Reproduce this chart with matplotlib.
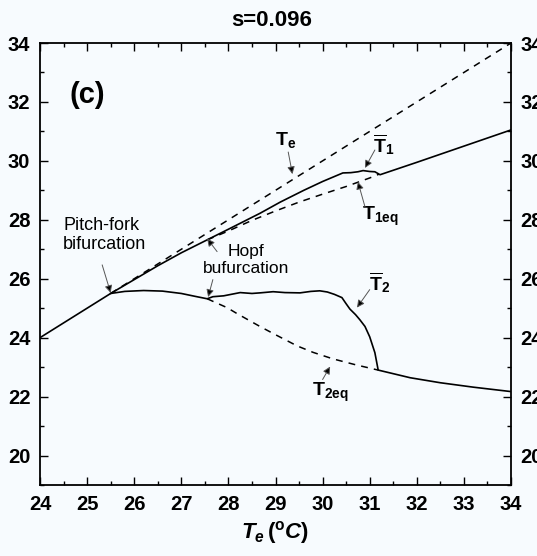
import numpy as np
import matplotlib
matplotlib.use("Agg")
import matplotlib.pyplot as plt
from matplotlib import font_manager
from matplotlib.ticker import MultipleLocator

# ---- data -------------------------------------------------------------
s_value = 0.096
pitchfork_te = 25.5
hopf_te = 27.55
merge_te = 31.2

# environmental temperature (dashed diagonal T = Te)
te_line_x = [25.5, 34.0]
te_line_y = [25.5, 34.0]

# time-mean temperature of box 1 (upper solid branch)
t1_x = [24.0, 25.5, 26.0, 26.5, 27.0, 27.55, 28.0, 28.67, 29.1, 29.6, 30.0,
        30.43, 30.6, 30.75, 30.86, 31.0, 31.11, 31.22, 32.0, 33.0, 34.0]
t1_y = [24.0, 25.5, 25.97, 26.44, 26.88, 27.32, 27.68, 28.22, 28.6, 29.0, 29.3,
        29.59, 29.6, 29.63, 29.67, 29.64, 29.63, 29.53, 29.95, 30.5, 31.05]

# unstable equilibrium of box 1 (dashed, Hopf to merge)
t1eq_x = [27.55, 28.0, 28.5, 29.0, 29.5, 30.0, 30.5, 31.0, 31.2]
t1eq_y = [27.32, 27.62, 27.98, 28.3, 28.6, 28.87, 29.13, 29.42, 29.55]

# time-mean temperature of box 2 (lower solid branch)
t2_x = [25.5, 25.8, 26.2, 26.6, 27.0, 27.3, 27.55, 27.67, 27.9, 28.25, 28.5,
        28.67, 28.95, 29.2, 29.52, 29.75, 29.94, 30.1, 30.25, 30.41, 30.5,
        30.58, 30.7, 30.79, 30.9, 31.0, 31.11, 31.18, 31.86, 32.5, 33.2, 34.0]
t2_y = [25.5, 25.57, 25.6, 25.58, 25.5, 25.4, 25.32, 25.39, 25.42, 25.53, 25.5,
        25.52, 25.56, 25.53, 25.52, 25.57, 25.59, 25.55, 25.47, 25.36, 25.15,
        24.97, 24.78, 24.61, 24.38, 24.03, 23.49, 22.9, 22.64, 22.47, 22.32, 22.17]

# unstable equilibrium of box 2 (dashed, Hopf to merge)
t2eq_x = [27.55, 27.97, 28.18, 28.67, 29.0, 29.46, 29.8, 30.22, 30.7, 31.18]
t2eq_y = [25.32, 25.02, 24.82, 24.38, 24.1, 23.72, 23.5, 23.28, 23.08, 22.9]

x_ticks = list(range(24, 35))
y_ticks = list(range(20, 35, 2))

# ---- style ------------------------------------------------------------
names = {f.name for f in font_manager.fontManager.ttflist}
FAM = "Liberation Sans Narrow" if "Liberation Sans Narrow" in names else "Liberation Sans"
plt.rcParams["font.family"] = [FAM, "DejaVu Sans"]
plt.rcParams["mathtext.fontset"] = "custom"
plt.rcParams["mathtext.rm"] = f"{FAM}:bold"
plt.rcParams["mathtext.it"] = f"{FAM}:italic:bold"
plt.rcParams["mathtext.bf"] = f"{FAM}:bold"

BG = "#f7fbfe"
fig = plt.figure(figsize=(5.37, 5.56), dpi=100, facecolor=BG)
ax = fig.add_axes([40 / 537, 1 - 485 / 556, 471 / 537, 442 / 556], facecolor=BG)

dash = (0, (4.5, 4))
ax.plot(te_line_x, te_line_y, color="black", lw=1.1, linestyle=dash)
ax.plot(t1eq_x, t1eq_y, color="black", lw=1.1, linestyle=dash)
ax.plot(t2eq_x, t2eq_y, color="black", lw=1.1, linestyle=dash)
ax.plot(t1_x, t1_y, color="black", lw=1.2)
ax.plot(t2_x, t2_y, color="black", lw=1.2)

ax.set_xlim(24, 34)
ax.set_ylim(19, 34)
ax.set_xticks(x_ticks)
ax.set_yticks(y_ticks)
ax.xaxis.set_minor_locator(MultipleLocator(0.5))
ax.yaxis.set_minor_locator(MultipleLocator(1))
ax.tick_params(which="both", direction="in", top=True, right=True,
               labelright=True, width=1.0, color="black")
ax.tick_params(which="major", length=6, labelsize=14.5, pad=7)
ax.tick_params(which="minor", length=3)
for lab in ax.get_xticklabels() + ax.get_yticklabels():
    lab.set_fontweight("bold")
for lab in ax.yaxis.get_ticklabels(which="major"):
    lab.set_fontweight("bold")
for sp in ax.spines.values():
    sp.set_linewidth(1.3)

ax.set_xlabel(r"$T_e\,(^{\mathrm{o}}C)$", fontsize=16, labelpad=4)
fig.text(272 / 537, 1 - 20 / 556, f"s={s_value}", ha="center", va="center",
         fontsize=16, fontweight="bold")

ax.text(25.0, 32.24, "(c)", fontsize=21, fontweight="bold", ha="center", va="center")

arrow = dict(arrowstyle="-|>", color="#555555", fc="black", lw=0.7,
             mutation_scale=11, shrinkA=0, shrinkB=0)

ax.text(24.49, 27.49, "Pitch-fork\nbifurcation", fontsize=13, ha="left",
        va="center", linespacing=1.15)
ax.annotate("", xy=(pitchfork_te, 25.52), xytext=(25.32, 26.47), arrowprops=arrow)

ax.text(28.38, 26.64, "Hopf\nbufurcation", fontsize=12.5, ha="center",
        va="center", linespacing=1.15)
ax.annotate("", xy=(hopf_te, 27.36), xytext=(27.76, 26.92), arrowprops=arrow)
ax.annotate("", xy=(hopf_te + 0.02, 25.38), xytext=(27.67, 25.97), arrowprops=arrow)

ax.text(29.22, 30.7, r"$\mathrm{T}_\mathrm{e}$", fontsize=14, ha="center", va="center")
ax.annotate("", xy=(29.36, 29.55), xytext=(29.27, 30.3), arrowprops=arrow)

ax.text(31.3, 30.55, r"$\overline{\mathrm{T}}_\mathrm{1}$", fontsize=14,
        ha="center", va="center")
ax.annotate("", xy=(30.9, 29.76), xytext=(31.11, 30.37), arrowprops=arrow)

ax.text(30.84, 28.1, r"$\mathrm{T}_\mathrm{1eq}$", fontsize=14, ha="left", va="center")
ax.annotate("", xy=(30.75, 29.29), xytext=(30.9, 28.44), arrowprops=arrow)

ax.text(31.2, 25.86, r"$\overline{\mathrm{T}}_\mathrm{2}$", fontsize=14,
        ha="center", va="center")
ax.annotate("", xy=(30.73, 25.02), xytext=(31.0, 25.63), arrowprops=arrow)

ax.text(29.77, 22.15, r"$\mathrm{T}_\mathrm{2eq}$", fontsize=14, ha="left", va="center")
ax.annotate("", xy=(30.16, 23.02), xytext=(30.0, 22.58), arrowprops=arrow)

fig.savefig("out.png", dpi=100, facecolor=BG)
